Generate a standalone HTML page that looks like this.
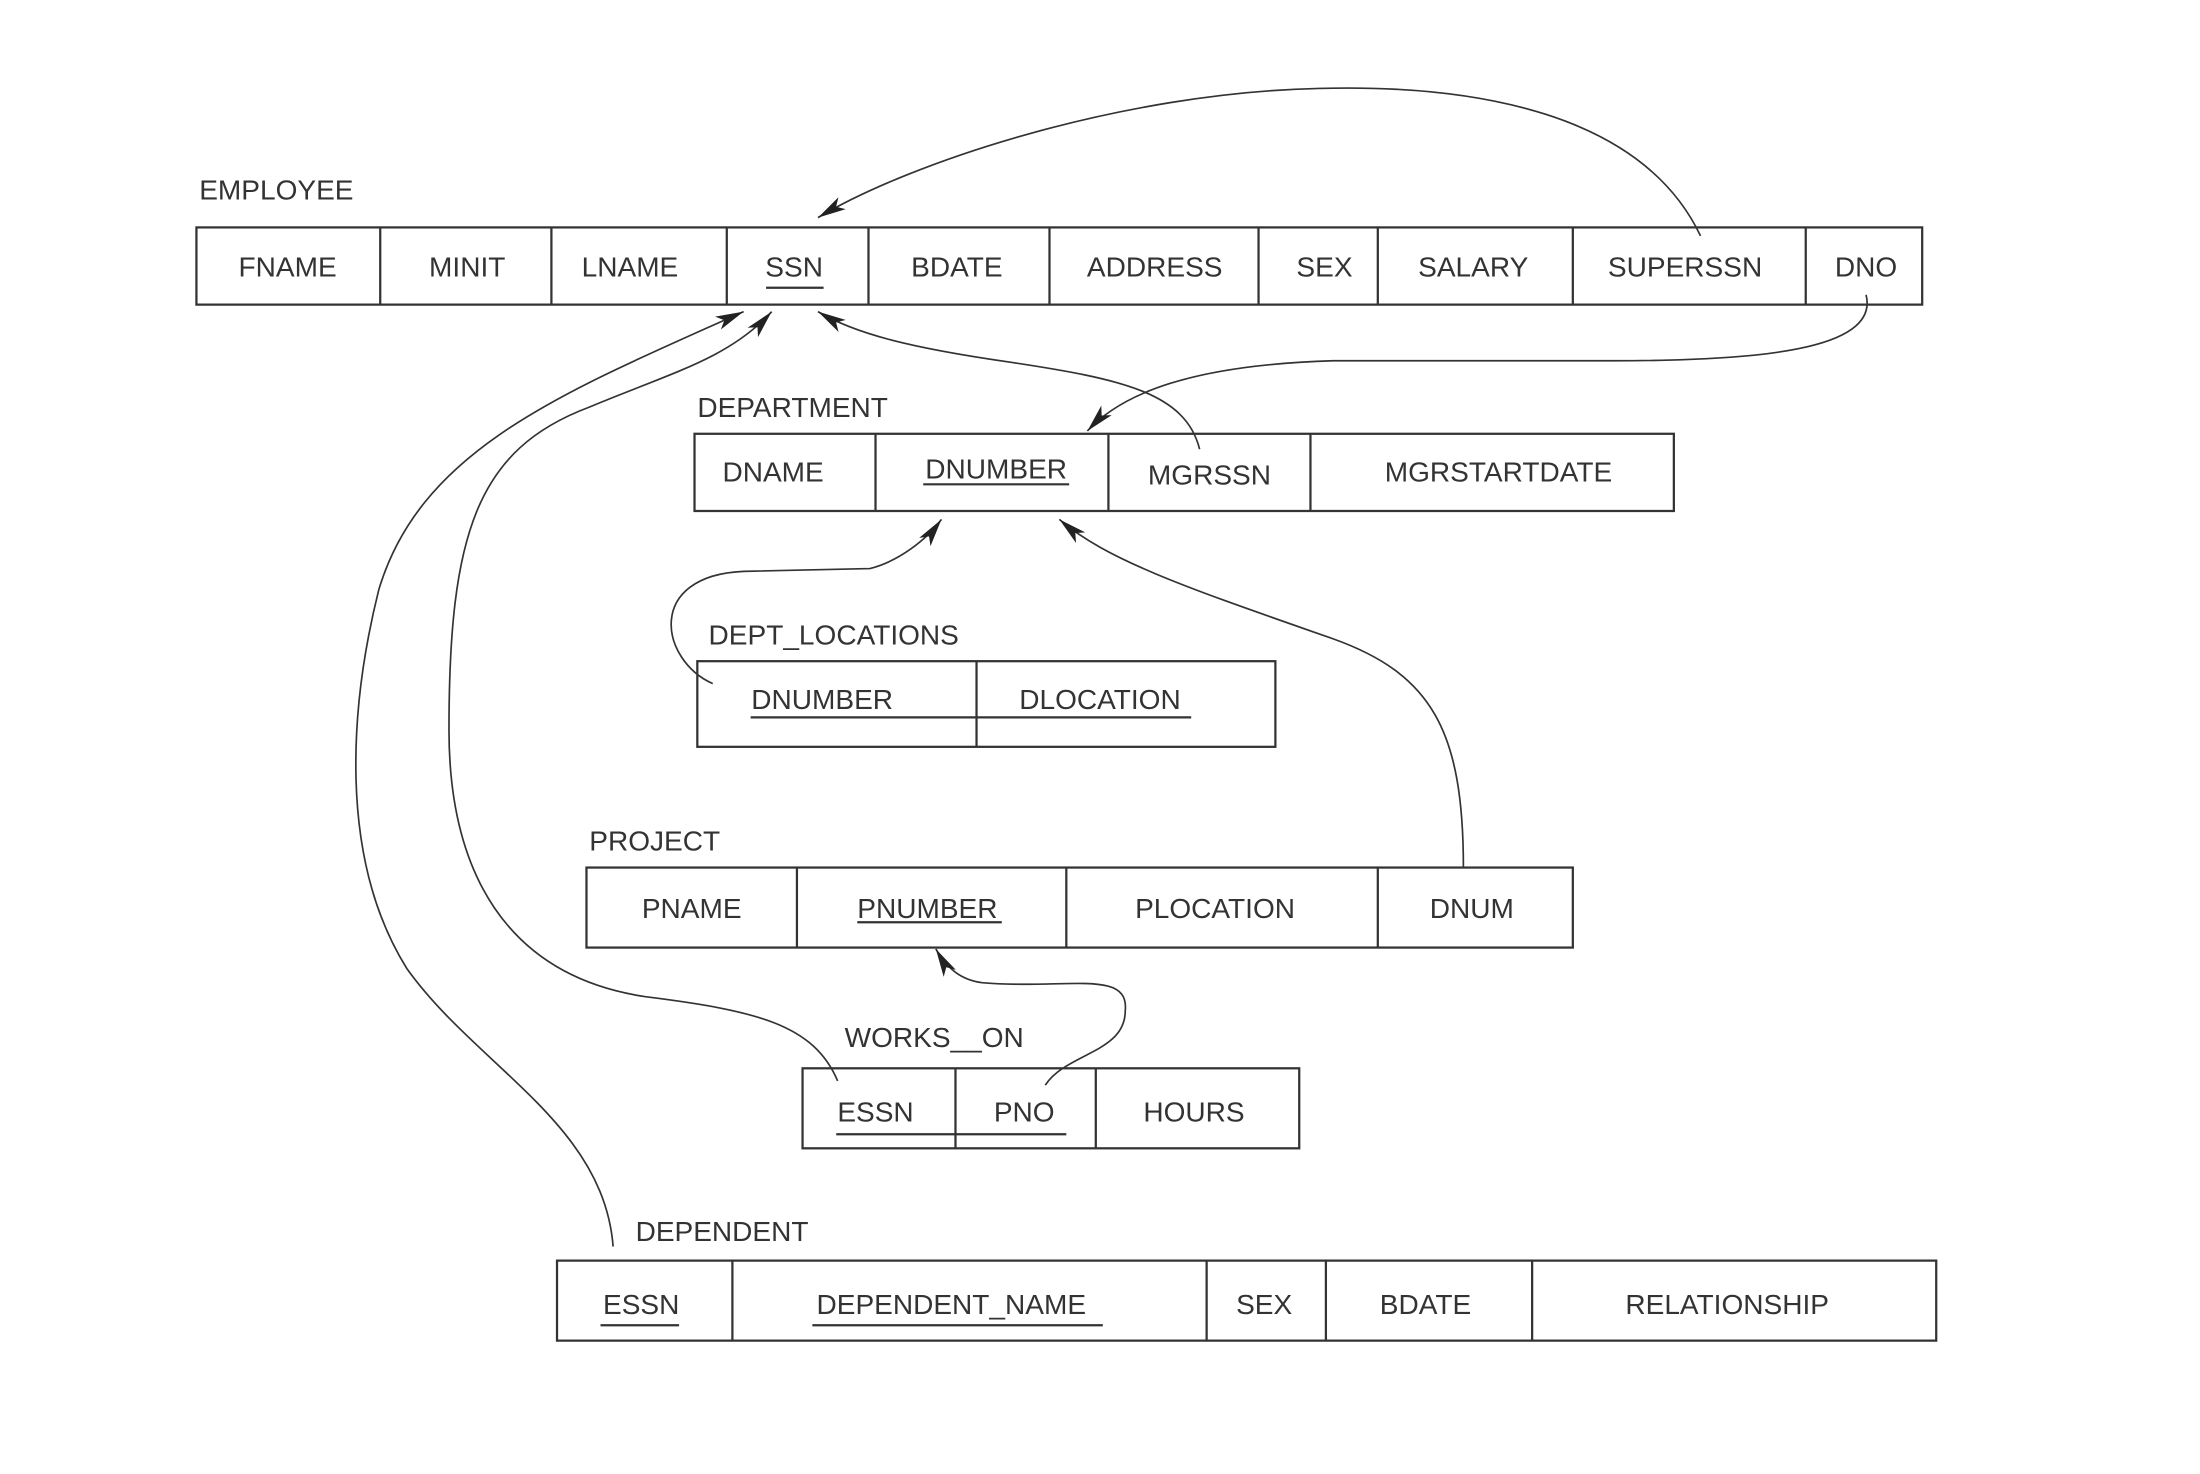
<!DOCTYPE html>
<html><head><meta charset="utf-8"><style>
html,body{margin:0;padding:0;background:#fff;}
svg{display:block;}
text{font-family:"Liberation Sans",sans-serif;font-size:20px;fill:#333;}
</style></head><body>
<svg width="2200" height="1474" viewBox="0 0 1568 1050" preserveAspectRatio="none" xmlns="http://www.w3.org/2000/svg">
<defs>
<marker id="a" viewBox="0 0 20 10" refX="20" refY="5" markerWidth="20" markerHeight="10" markerUnits="userSpaceOnUse" orient="auto">
<path d="M0,0 L20,5 L0,10 L5,5 Z" fill="#222"/>
</marker>
</defs>
<rect width="1568" height="1050" fill="#fff"/>
<g fill="none" stroke="#333" stroke-width="1.6">
<rect x="140" y="162" width="1230" height="55"/>
<path d="M271,162V217M393,162V217M518,162V217M619,162V217M748,162V217M897,162V217M982,162V217M1121,162V217M1287,162V217"/>
<path d="M546,205H587"/>
<rect x="495" y="309" width="698" height="55"/>
<path d="M624,309V364M790,309V364M934,309V364"/>
<path d="M658,345H762"/>
<rect x="497" y="471" width="412" height="61"/>
<path d="M696,471V532"/>
<path d="M535,511H849"/>
<rect x="418" y="618" width="703" height="57"/>
<path d="M568,618V675M760,618V675M982,618V675"/>
<path d="M611,657H714"/>
<rect x="572" y="761" width="354" height="57"/>
<path d="M681,761V818M781,761V818"/>
<path d="M596,808H760"/>
<rect x="397" y="898" width="983" height="57"/>
<path d="M522,898V955M860,898V955M945,898V955M1092,898V955"/>
<path d="M428,944H484M579,944H786"/>
</g>
<g fill="none" stroke="#333" stroke-width="1.2">
<path marker-end="url(#a)" d="M1212,168 C1170,80 1050,60 940,63 C800,66 650,115 583,155"/>
<path marker-end="url(#a)" d="M1330,210 C1340,250 1250,257 1150,257 L950,257 C850,260 800,280 775,307"/>
<path marker-end="url(#a)" d="M855,320 C845,280 800,270 720,258 C650,248 610,238 583,222"/>
<path marker-end="url(#a)" d="M508,487 C470,470 460,410 530,407 L620,405 C640,400 660,385 671,370"/>
<path marker-end="url(#a)" d="M1043,618 C1043,520 1020,480 950,455 C850,420 790,400 755,370"/>
<path marker-end="url(#a)" d="M745,773 C760,750 802,750 802,720 C805,690 760,705 700,700 C685,698 675,690 667,676"/>
<path marker-end="url(#a)" d="M597,770 C580,730 540,720 460,710 C360,695 320,620 320,520 C320,380 340,320 420,290 C480,265 520,255 550,222"/>
<path marker-end="url(#a)" d="M437,888 C430,800 340,760 290,690 C240,610 250,500 270,420 C300,320 400,280 530,222"/>
</g>
<g text-anchor="middle">
<text x="205" y="197">FNAME</text><text x="333" y="197">MINIT</text><text x="449" y="197">LNAME</text>
<text x="566" y="197">SSN</text><text x="682" y="197">BDATE</text><text x="823" y="197">ADDRESS</text>
<text x="944" y="197">SEX</text><text x="1050" y="197">SALARY</text><text x="1201" y="197">SUPERSSN</text>
<text x="1330" y="197">DNO</text>
<text x="551" y="343">DNAME</text><text x="710" y="341">DNUMBER</text><text x="862" y="345">MGRSSN</text><text x="1068" y="343">MGRSTARTDATE</text>
<text x="586" y="505">DNUMBER</text><text x="784" y="505">DLOCATION</text>
<text x="493" y="654">PNAME</text><text x="661" y="654">PNUMBER</text><text x="866" y="654">PLOCATION</text><text x="1049" y="654">DNUM</text>
<text x="624" y="799">ESSN</text><text x="730" y="799">PNO</text><text x="851" y="799">HOURS</text>
<text x="457" y="936">ESSN</text><text x="678" y="936">DEPENDENT_NAME</text><text x="901" y="936">SEX</text>
<text x="1016" y="936">BDATE</text><text x="1231" y="936">RELATIONSHIP</text>
</g>
<text x="142" y="142">EMPLOYEE</text>
<text x="497" y="297">DEPARTMENT</text>
<text x="505" y="459">DEPT_LOCATIONS</text>
<text x="420" y="606">PROJECT</text>
<text x="602" y="746">WORKS__ON</text>
<text x="453" y="884">DEPENDENT</text>
</svg>
</body></html>
